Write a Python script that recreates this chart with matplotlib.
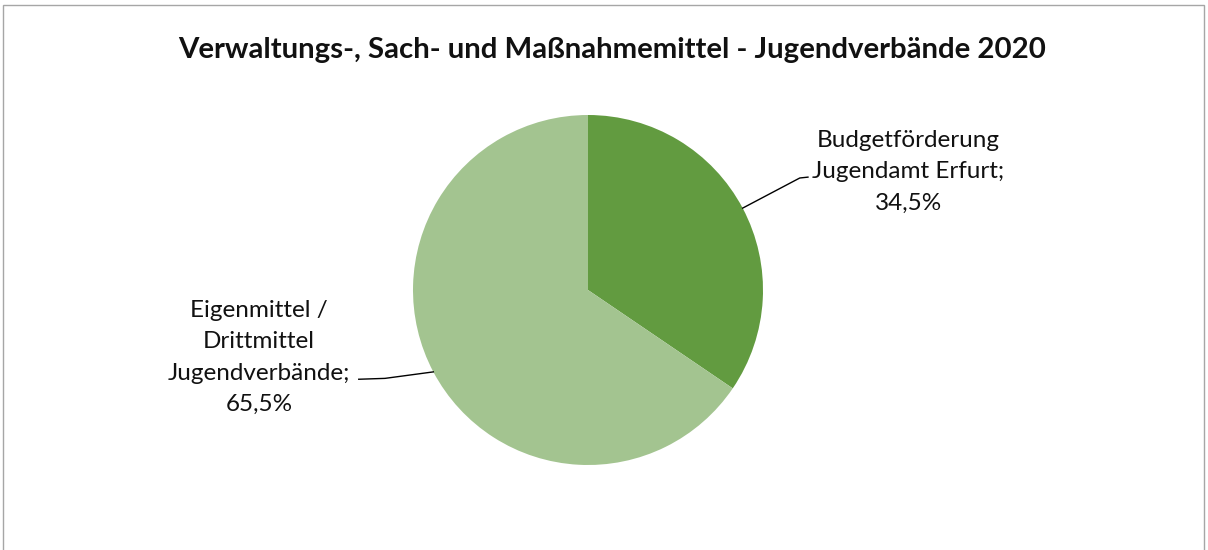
import numpy as np
import matplotlib.pyplot as plt
from matplotlib.patches import Rectangle

title = 'Verwaltungs-, Sach- und Maßnahmemittel - Jugendverbände 2020'
labels = ['Budgetförderung\nJugendamt Erfurt', 'Eigenmittel /\nDrittmittel\nJugendverbände']
shares = [34.5, 65.5]
colors = ['#629B40', '#A3C490']

plt.rcParams['font.family'] = ['Lato', 'DejaVu Sans']

fig = plt.figure(figsize=(12.08, 5.5), dpi=100)
ax = fig.add_axes([0, 0, 1, 1])

wedges, _ = ax.pie(shares, colors=colors, startangle=90, counterclock=False,
                   radius=1, wedgeprops=dict(linewidth=0))

# axes spans the whole figure, 175 px per data unit, pie centre at (588, 290) px
ax.set_xlim(-588 / 175, (1208 - 588) / 175)
ax.set_ylim(-(550 - 290) / 175, 290 / 175)
ax.set_aspect('auto')
ax.axis('off')

# label placement (data units), elbow and end of the leader line
text_pos = [(1.83, 0.675), (-1.88, -0.385)]
elbows = [(1.21, 0.64), (-1.16, -0.505)]
ends = [(1.257, 0.645), (-1.31, -0.51)]

for w, lab, val, tp, el, en in zip(wedges, labels, shares, text_pos, elbows, ends):
    mid = np.deg2rad((w.theta1 + w.theta2) / 2)
    x0, y0 = np.cos(mid), np.sin(mid)
    ax.plot([x0, el[0], en[0]], [y0, el[1], en[1]], color='black', lw=1)
    txt = f'{lab};\n' + f'{val:.1f}'.replace('.', ',') + '%'
    ax.text(tp[0], tp[1], txt, ha='center', va='center', multialignment='center',
            fontsize=17.5, color='#111111', linespacing=1.62)

fig.text(0.5066, 0.909, title, ha='center', va='center', fontsize=21.2,
         fontweight='bold', color='#111111')

fig.add_artist(Rectangle((3 / 1208, -0.05), 1201 / 1208, 1.05 - 4.5 / 550,
                         transform=fig.transFigure, fill=False,
                         edgecolor='#A6A6A6', lw=1))

fig.savefig('out.png', dpi=100)
